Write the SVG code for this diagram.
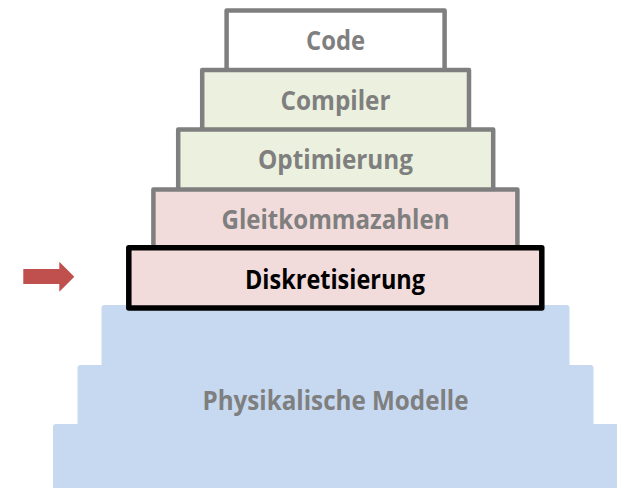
<svg xmlns="http://www.w3.org/2000/svg" width="617" height="488" viewBox="0 0 617 488">
  <style>
    .lbl { font-family: "Open Sans", "Noto Sans", "Liberation Sans", sans-serif; font-weight: bold; font-size: 26px; text-anchor: middle; fill: #7f7f7f; }
    .lbl.dark { fill: #000000; }
    .tier { stroke: #7f7f7f; stroke-width: 4.5; stroke-linejoin: round; }
    .green { fill: #ebf1de; }
    .pink { fill: #f2dcdb; }
    .white { fill: #ffffff; }
    .base { fill: #c6d9f0; }
  </style>
  <rect width="617" height="488" fill="#ffffff"/>

  <!-- stepped foundation -->
  <g id="physikalische-modelle">
    <rect class="base" x="101.5" y="305" width="468" height="70" rx="3"/>
    <rect class="base" x="77.5" y="365" width="516" height="70" rx="3"/>
    <rect class="base" x="53" y="424" width="580" height="80" rx="3"/>
    <text class="lbl" x="335.5" y="409.5" textLength="266" lengthAdjust="spacingAndGlyphs">Physikalische Modelle</text>
  </g>

  <!-- stacked layers, top to bottom -->
  <g id="code">
    <rect class="tier white" x="226.6" y="10.5" width="218" height="62"/>
    <text class="lbl" x="335.5" y="50" textLength="59" lengthAdjust="spacingAndGlyphs">Code</text>
  </g>
  <g id="compiler">
    <rect class="tier green" x="202.2" y="70" width="266.8" height="62"/>
    <text class="lbl" x="335.5" y="109.5" textLength="110" lengthAdjust="spacingAndGlyphs">Compiler</text>
  </g>
  <g id="optimierung">
    <rect class="tier green" x="178.2" y="129.6" width="315" height="62"/>
    <text class="lbl" x="335.5" y="169" textLength="155" lengthAdjust="spacingAndGlyphs">Optimierung</text>
  </g>
  <g id="gleitkommazahlen">
    <rect class="tier pink" x="153.4" y="189.5" width="364" height="62"/>
    <text class="lbl" x="335.5" y="229" textLength="228" lengthAdjust="spacingAndGlyphs">Gleitkommazahlen</text>
  </g>
  <g id="diskretisierung">
    <rect class="pink" x="128.8" y="247.8" width="413" height="60.2" stroke="#000000" stroke-width="5.5" stroke-linejoin="round"/>
    <text class="lbl dark" x="335" y="288.5" textLength="180" lengthAdjust="spacingAndGlyphs">Diskretisierung</text>
  </g>

  <!-- marker arrow -->
  <g id="connectors">
    <polygon points="23.3,269 59.3,269 59.3,261.7 74.3,276.7 59.3,291.7 59.3,284 23.3,284" fill="#c0504d"/>
  </g>
</svg>
